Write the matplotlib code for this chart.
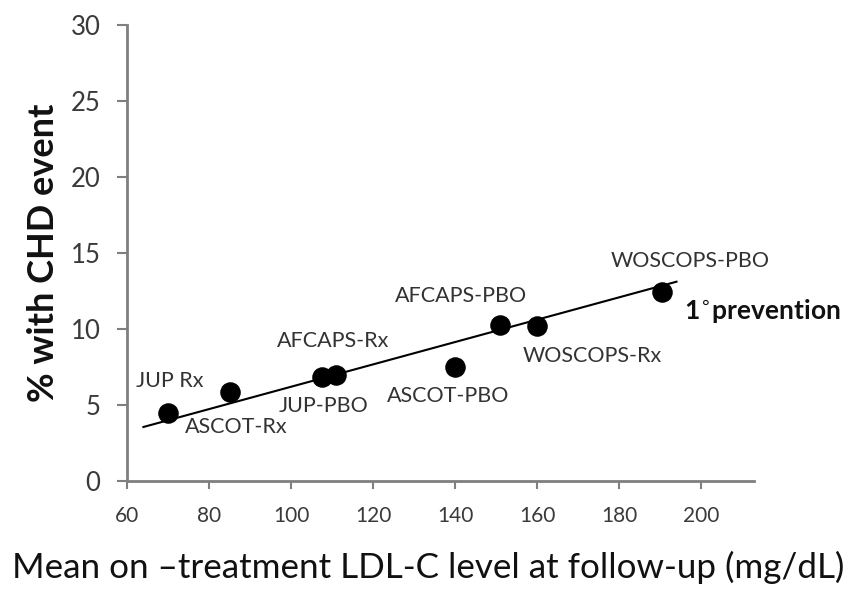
from matplotlib import pyplot as plt
import numpy as np

# LDL-C (mg/dL) vs % with CHD event, primary prevention trials
trials = ['JUP Rx', 'ASCOT-Rx', 'JUP-PBO', 'AFCAPS-Rx', 'ASCOT-PBO',
          'AFCAPS-PBO', 'WOSCOPS-Rx', 'WOSCOPS-PBO']
ldl = [70, 85, 107.5, 111, 140, 151, 160, 190.5]
chd = [4.5, 5.85, 6.85, 6.95, 7.5, 10.25, 10.2, 12.45]

# trend line drawn in the original figure
trend_x = [64, 194]
trend_y = [3.55, 13.1]

# label offsets in points (dx, dy)
offsets = [(1, 23), (5, -25), (1, -21), (-2, 25), (-5, -21),
           (-28, 21), (40, -22), (20, 22)]

plt.rcParams['font.family'] = ['Lato', 'DejaVu Sans']

fig = plt.figure(figsize=(8.49, 5.92), dpi=100)
ax = fig.add_axes([0.1496, 0.1875, 0.739, 0.771])

ax.plot(trend_x, trend_y, color='black', lw=1.5, zorder=2)
ax.scatter(ldl, chd, s=190, color='black', zorder=3)

for name, x, y, (dx, dy) in zip(trials, ldl, chd, offsets):
    ax.annotate(name, (x, y), xytext=(dx, dy), textcoords='offset points',
                ha='center', va='center', fontsize=15.5, color='#333333')

ax.annotate('1$^{\\circ}$prevention', (190.5, 12.45), xytext=(16, -14),
            textcoords='offset points', ha='left', va='center',
            fontsize=19, fontweight='bold', color='#111111')

ax.set_xlim(60, 213)
ax.set_ylim(0, 30)
ax.set_xticks(np.arange(60, 201, 20))
ax.set_yticks(np.arange(0, 31, 5))

for side in ['top', 'right']:
    ax.spines[side].set_visible(False)
for side in ['left', 'bottom']:
    ax.spines[side].set_color('#7f7f7f')
    ax.spines[side].set_linewidth(2)

ax.tick_params(axis='y', direction='out', length=7, width=1.5,
               color='#7f7f7f', labelsize=18.5, labelcolor='#3a3a3a', pad=12)
ax.tick_params(axis='x', direction='out', length=6, width=1.5,
               color='#7f7f7f', labelsize=15, labelcolor='#3a3a3a', pad=12)

ax.set_ylabel('% with CHD event', fontsize=26, fontweight='bold',
              color='#111111', labelpad=8)
ax.set_xlabel('Mean on \u2013treatment LDL-C level at follow-up (mg/dL)',
              fontsize=25.2, color='#111111', labelpad=18)
ax.xaxis.label.set_x(0.48)

plt.savefig('out.png', dpi=100)
